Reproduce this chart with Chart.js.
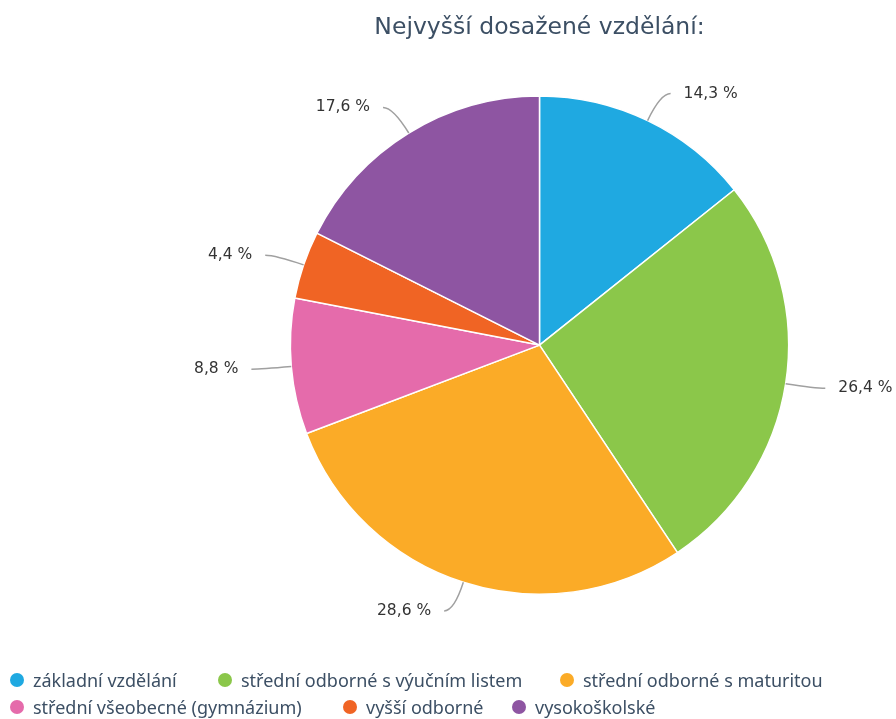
<!DOCTYPE html>
<html>
<head>
<meta charset="utf-8">
<script src="https://cdn.jsdelivr.net/npm/chart.js@4/dist/chart.umd.min.js"></script>
<style>
  html, body { margin: 0; padding: 0; background: #fff; }
  #wrap { position: relative; width: 896px; height: 719px; }
  #legend { position: absolute; left: 0; top: 0; width: 896px; height: 719px; pointer-events: none;
    font-family: "Noto Sans", sans-serif; font-size: 18px; color: #3c4f64; }
  #legend .item { position: absolute; display: flex; align-items: center; height: 24px; white-space: nowrap; }
  #legend .dot { width: 14px; height: 14px; border-radius: 50%; margin-right: 9px; }
</style>
</head>
<body>
<div id="wrap">
  <canvas id="pie" width="896" height="719"></canvas>
  <div id="legend"></div>
</div>
<script>
const kategorie = ['základní vzdělání', 'střední odborné s výučním listem', 'střední odborné s maturitou',
  'střední všeobecné (gymnázium)', 'vyšší odborné', 'vysokoškolské'];
const podily = [14.3, 26.4, 28.6, 8.8, 4.4, 17.6];
const barvy = ['#1fa9e1', '#8bc74a', '#fbab27', '#e56bab', '#f06424', '#8e55a2'];

// legend as html so it can span the full width while the pie stays offset
const legendPos = [[10, 668], [218, 668], [560, 668], [10, 695], [343, 695], [512, 695]];
const leg = document.getElementById('legend');
kategorie.forEach((k, i) => {
  const it = document.createElement('div');
  it.className = 'item';
  it.style.left = legendPos[i][0] + 'px';
  it.style.top = legendPos[i][1] + 'px';
  it.innerHTML = '<span class="dot" style="background:' + barvy[i] + '"></span>' + k;
  leg.appendChild(it);
});

// percentage labels with bent leader lines
const popisky = {
  id: 'popisky',
  afterDatasetsDraw(chart) {
    const ctx = chart.ctx;
    const meta = chart.getDatasetMeta(0);
    ctx.save();
    ctx.font = '15.5px "DejaVu Sans"';
    ctx.textBaseline = 'middle';
    meta.data.forEach((arc, i) => {
      const mid = (arc.startAngle + arc.endAngle) / 2;
      const r = arc.outerRadius;
      const cx = arc.x, cy = arc.y;
      const x0 = cx + Math.cos(mid) * r, y0 = cy + Math.sin(mid) * r;
      const x1 = cx + Math.cos(mid) * (r + 30), y1 = cy + Math.sin(mid) * (r + 30);
      const right = Math.cos(mid) >= 0;
      const x2 = x1 + (right ? 10 : -10);
      ctx.strokeStyle = '#a0a0a0';
      ctx.lineWidth = 1.5;
      ctx.beginPath();
      ctx.moveTo(x0, y0);
      ctx.quadraticCurveTo(x1, y1, x2, y1);
      ctx.stroke();
      ctx.fillStyle = '#333';
      ctx.textAlign = right ? 'left' : 'right';
      const txt = podily[i].toFixed(1).replace('.', ',') + ' %';
      ctx.fillText(txt, x2 + (right ? 13 : -13), y1);
    });
    ctx.restore();
  }
};

new Chart(document.getElementById('pie'), {
  type: 'pie',
  data: {
    labels: kategorie,
    datasets: [{
      data: podily,
      backgroundColor: barvy,
      borderColor: '#fff',
      borderWidth: 1.5
    }]
  },
  options: {
    responsive: false,
    animation: false,
    layout: { padding: { left: 183, right: 0, top: 0, bottom: 124 } },
    plugins: {
      legend: { display: false },
      tooltip: { enabled: false },
      title: {
        display: true,
        text: 'Nejvyšší dosažené vzdělání:',
        color: '#3c4f64',
        font: { family: '"DejaVu Sans"', size: 23.5, weight: 'normal', lineHeight: 1.2 },
        padding: { top: 14, bottom: 53 }
      }
    }
  },
  plugins: [popisky]
});
</script>
</body>
</html>
